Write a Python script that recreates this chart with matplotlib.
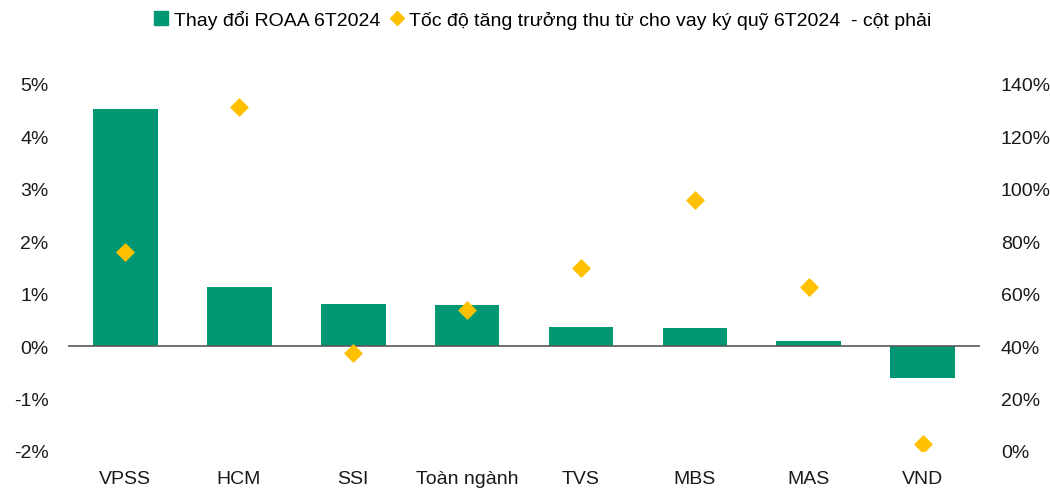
import matplotlib
matplotlib.use('Agg')
import matplotlib.pyplot as plt
from matplotlib.ticker import FuncFormatter
from matplotlib.lines import Line2D
from matplotlib.patches import Patch

plt.rcParams['font.family'] = ['Liberation Sans', 'DejaVu Sans']

# data
companies = ["VPSS", "HCM", "SSI", "Toàn ngành", "TVS", "MBS", "MAS", "VND"]
roaa_change = [4.52, 1.12, 0.81, 0.79, 0.36, 0.34, 0.09, -0.60]       # %, left axis
margin_growth = [76.0, 131.4, 37.3, 53.7, 69.7, 95.9, 62.6, 2.8]      # %, right axis

bar_label = "Thay đổi ROAA 6T2024"
dot_label = "Tốc độ tăng trưởng thu từ cho vay ký quỹ 6T2024  - cột phải"

GREEN = "#009874"
YELLOW = "#FFC000"

fig = plt.figure(figsize=(10.5, 4.89), dpi=100)
ax = fig.add_axes([0.0648, 0.0757, 0.8685, 0.7505])
x = range(len(companies))
ax.bar(x, roaa_change, width=0.57, color=GREEN, zorder=2)
ax.axhline(0, color="#595959", lw=1.2, zorder=3)
ax.set_xlim(-0.5, len(companies) - 0.5)
ax.set_ylim(-2, 5)
ax.set_yticks(range(-2, 6))
ax.yaxis.set_major_formatter(FuncFormatter(lambda v, p: f"{v:.0f}%"))
ax.set_xticks(list(x))
ax.set_xticklabels(companies)

ax2 = ax.twinx()
ax2.scatter(x, margin_growth, marker="D", s=75, color=YELLOW, zorder=4)
ax2.set_ylim(0, 140)
ax2.set_yticks(range(0, 141, 20))
ax2.yaxis.set_major_formatter(FuncFormatter(lambda v, p: f"{v:.0f}%"))

for a in (ax, ax2):
    for s in a.spines.values():
        s.set_visible(False)
    a.tick_params(length=0, labelsize=14, colors="#1a1a1a")
ax.tick_params(axis="y", pad=14)
ax.tick_params(axis="x", pad=14)
ax2.tick_params(axis="y", pad=15)

handles = [Patch(color=GREEN, label=bar_label),
           Line2D([], [], marker="D", ls="none", color=YELLOW, markersize=7, label=dot_label)]
fig.legend(handles=handles, loc="center", bbox_to_anchor=(0.517, 0.958), ncol=2,
           frameon=False, handlelength=0.7, handletextpad=0.3, columnspacing=0.5,
           prop={'size': 14})

fig.savefig("out.png", dpi=100)
